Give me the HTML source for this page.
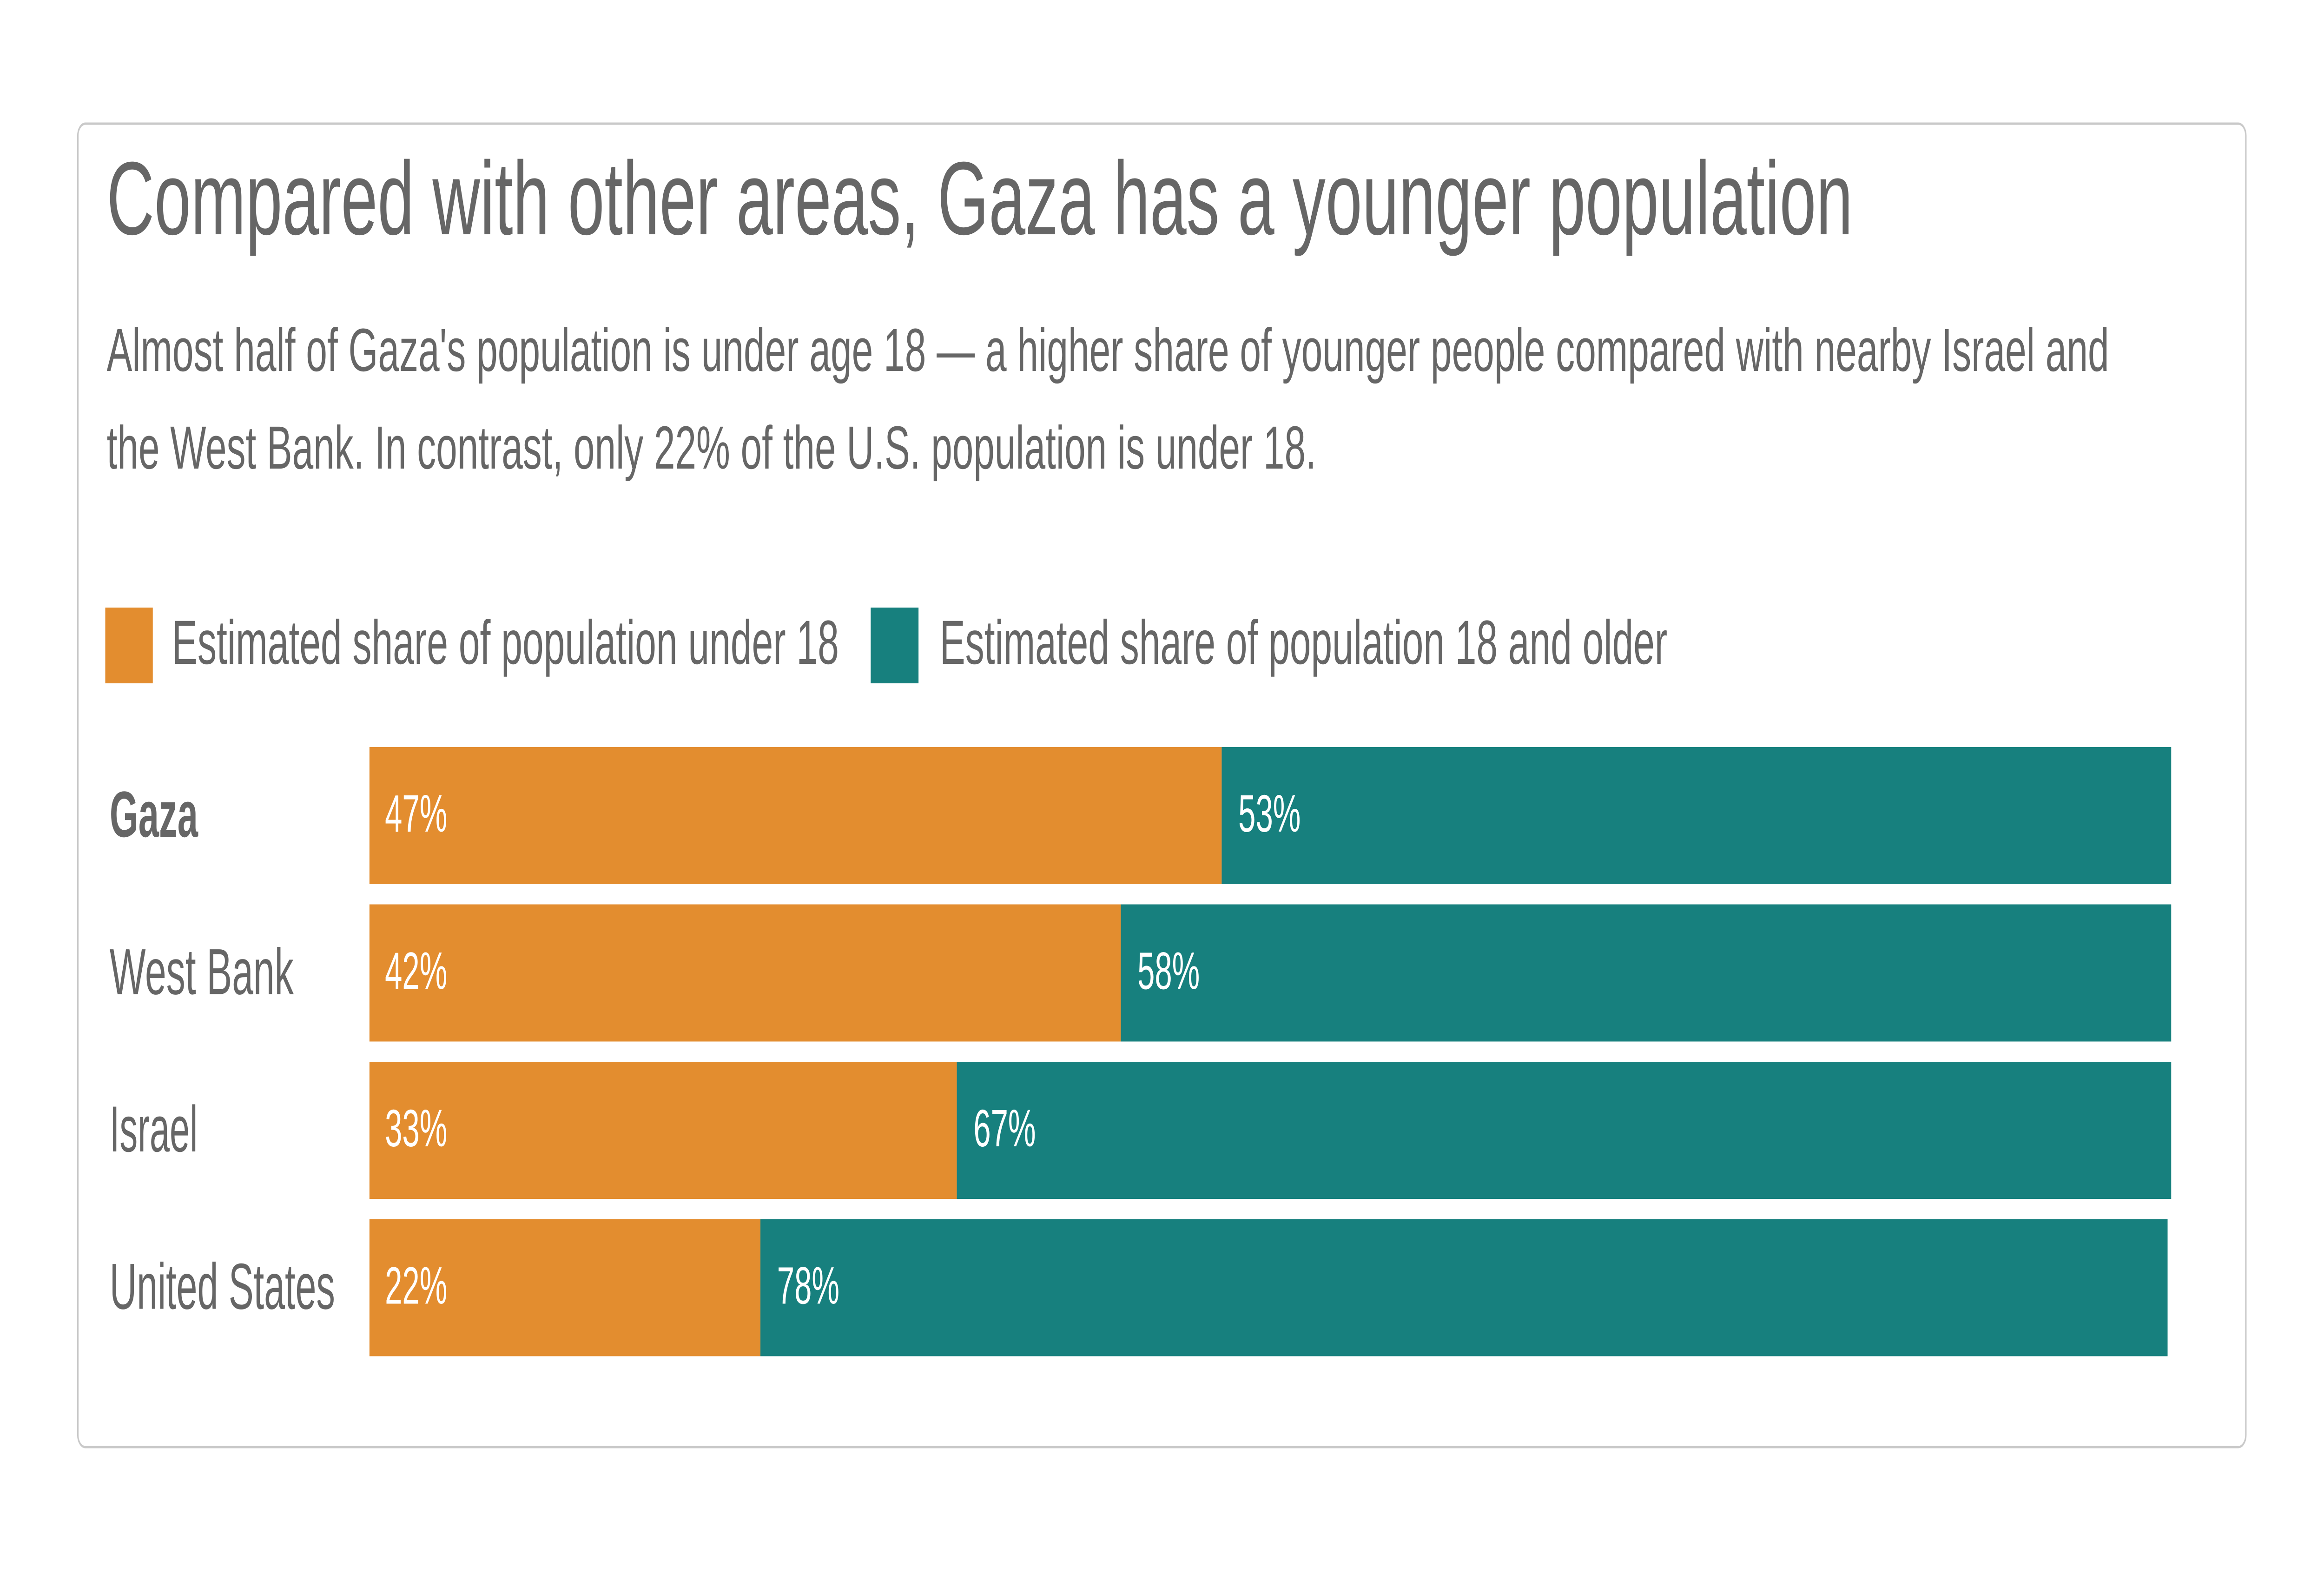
<!DOCTYPE html>
<html><head><meta charset="utf-8">
<style>
html,body{margin:0;padding:0;background:#fff;width:100%;height:100%;overflow:hidden;}
svg{display:block;position:absolute;left:0;top:0;width:100vw;height:100vh;font-family:"Liberation Sans",Arial,sans-serif;}
</style></head>
<body>
<svg id="chart" viewBox="0 0 7970 3386" preserveAspectRatio="none" xmlns="http://www.w3.org/2000/svg">
  <rect x="267" y="266" width="7435" height="2847" rx="26" ry="26" fill="#fff" stroke="#c9c9c9" stroke-width="5"/>
  <text x="366" y="504" font-size="224" fill="#666" textLength="5988" lengthAdjust="spacingAndGlyphs">Compared with other areas, Gaza has a younger population</text>
  <text x="366" y="798" font-size="131" fill="#666" textLength="6867" lengthAdjust="spacingAndGlyphs">Almost half of Gaza's population is under age 18 — a higher share of younger people compared with nearby Israel and</text>
  <text x="366" y="1008" font-size="131" fill="#666" textLength="4148" lengthAdjust="spacingAndGlyphs">the West Bank. In contrast, only 22% of the U.S. population is under 18.</text>
  <g>
    <rect x="361" y="1307" width="163" height="163" fill="#E38D2F"/>
    <text x="590" y="1428" font-size="134" fill="#666" textLength="2287" lengthAdjust="spacingAndGlyphs">Estimated share of population under 18</text>
    <rect x="2986" y="1307" width="164" height="163" fill="#17807E"/>
    <text x="3223" y="1428" font-size="134" fill="#666" textLength="2495" lengthAdjust="spacingAndGlyphs">Estimated share of population 18 and older</text>
  </g>
  <g id="bars"></g>
</svg>
<script>
const categories = ["Gaza", "West Bank", "Israel", "United States"];
const underValues = [47.3, 41.7, 32.6, 21.7];
const overValues = [52.7, 58.3, 67.4, 78.1];
const underLabels = ["47%", "42%", "33%", "22%"];
const overLabels = ["53%", "58%", "67%", "78%"];
const catWidths = [303, 631, 302, 773];

const NS = "http://www.w3.org/2000/svg";
const X0 = 1267, PX_PER = 61.79;
const Y0 = 1607, PITCH = 338.5, BAR_H = 295;
function xScale(v){ return X0 + v * PX_PER; }
function yScale(i){ return Y0 + i * PITCH; }
const g = document.getElementById("bars");
function mk(tag, attrs){ const e = document.createElementNS(NS, tag); for (const k in attrs) e.setAttribute(k, attrs[k]); return e; }

categories.forEach((cat, i) => {
  const y = yScale(i);
  const lab = mk("text", {x: 376, y: y + 193, "font-size": 140, fill: "#666", "font-weight": i === 0 ? "bold" : "normal", textLength: catWidths[i], lengthAdjust: "spacingAndGlyphs"});
  
  
  lab.textContent = cat;
  g.appendChild(lab);

  const xa = xScale(0), xb = xScale(underValues[i]), xc = xScale(underValues[i] + overValues[i]);
  const r1 = mk("rect", {x: xa, y: y, width: xb - xa, height: BAR_H, fill: "#E38D2F"});
  
  
  g.appendChild(r1);
  const r2 = mk("rect", {x: xb, y: y, width: xc - xb, height: BAR_H, fill: "#17807E"});
  
  
  g.appendChild(r2);

  const t1 = mk("text", {x: xa + 53, y: y + 182, "font-size": 113, fill: "#fff", textLength: 214, lengthAdjust: "spacingAndGlyphs"});
  
  
  t1.textContent = underLabels[i];
  g.appendChild(t1);
  const t2 = mk("text", {x: xb + 57, y: y + 182, "font-size": 113, fill: "#fff", textLength: 214, lengthAdjust: "spacingAndGlyphs"});
  
  
  t2.textContent = overLabels[i];
  g.appendChild(t2);
});
</script>
</body></html>
